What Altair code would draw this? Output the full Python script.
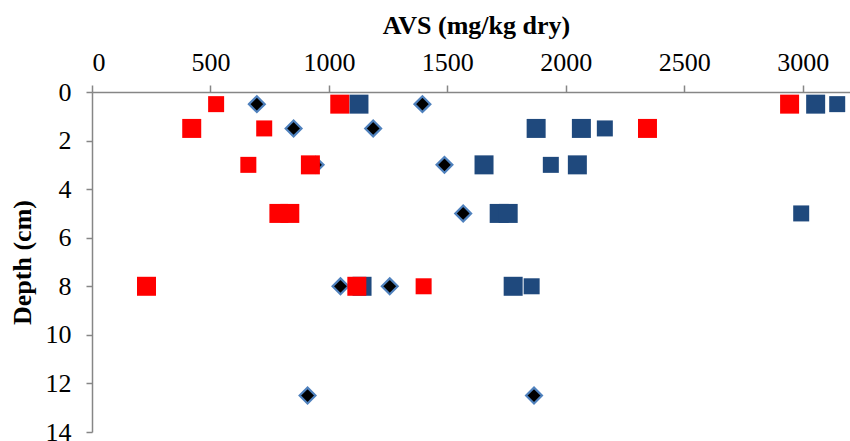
import altair as alt
import pandas as pd

# ---- data ----
red_big_avs = [1046, 2945, 421, 2345, 922, 789, 835, 230, 1118]
red_big_depth = [0.5, 0.5, 1.5, 1.5, 3, 5, 5, 8, 8]

red_small_avs = [524, 727, 660, 1400]
red_small_depth = [0.5, 1.5, 3, 8]

blue_big_avs = [1127, 3055, 1875, 2066, 1655, 2049, 1719, 1757, 1140, 1778]
blue_big_depth = [0.5, 0.5, 1.5, 1.5, 3, 3, 5, 5, 8, 8]

blue_small_avs = [3146, 2165, 1937, 2994, 1856]
blue_small_depth = [0.5, 1.5, 3, 5, 8]

diamond_avs = [696, 1395, 851, 1187, 944, 1488, 1567, 1049, 1257, 910, 1866]
diamond_depth = [0.5, 0.5, 1.5, 1.5, 3, 3, 5, 8, 8, 12.5, 12.5]

x_ticks = [0, 500, 1000, 1500, 2000, 2500, 3000]
y_ticks = [0, 2, 4, 6, 8, 10, 12, 14]

FONT = "Liberation Serif"
AXIS_GREY = "#868686"


def frame(avs, depth):
    return pd.DataFrame({"avs": avs, "depth": depth})


x_enc = alt.X(
    "avs:Q",
    scale=alt.Scale(domain=[0, 3200], nice=False, zero=True),
    axis=alt.Axis(
        orient="top",
        values=x_ticks,
        format="d",
        title="AVS (mg/kg dry)",
        titleBaseline="alphabetic",
        titleY=-59,
        titleX=384,
        tickSize=7,
        labelPadding=10,
    ),
)
y_enc = alt.Y(
    "depth:Q",
    scale=alt.Scale(domain=[0, 14], reverse=True, nice=False),
    axis=alt.Axis(
        values=y_ticks,
        format="d",
        title="Depth (cm)",
        titleBaseline="alphabetic",
        titleAngle=-90,
        titleAlign="center",
        titleX=-62,
        titleY=170,
        tickSize=6,
        labelPadding=15,
    ),
)

diamonds = alt.Chart(frame(diamond_avs, diamond_depth)).mark_point(
    shape="diamond", filled=True, fill="black", stroke="#4F81BD",
    strokeWidth=2.2, size=250, opacity=1
).encode(x=x_enc, y=y_enc)

blue_big = alt.Chart(frame(blue_big_avs, blue_big_depth)).mark_point(
    shape="square", filled=True, color="#1F497D", size=361, opacity=1, strokeWidth=0
).encode(x=x_enc, y=y_enc)

blue_small = alt.Chart(frame(blue_small_avs, blue_small_depth)).mark_point(
    shape="square", filled=True, color="#1F497D", size=256, opacity=1, strokeWidth=0
).encode(x=x_enc, y=y_enc)

red_big = alt.Chart(frame(red_big_avs, red_big_depth)).mark_point(
    shape="square", filled=True, color="#FF0000", size=361, opacity=1, strokeWidth=0
).encode(x=x_enc, y=y_enc)

red_small = alt.Chart(frame(red_small_avs, red_small_depth)).mark_point(
    shape="square", filled=True, color="#FF0000", size=256, opacity=1, strokeWidth=0
).encode(x=x_enc, y=y_enc)

chart = alt.layer(diamonds, blue_big, blue_small, red_big, red_small).properties(
    width=758,
    height=340,
    autosize=alt.AutoSizeParams(type="none"),
    padding={"left": 92, "top": 92, "right": 0, "bottom": 9},
    background="white",
).configure_view(stroke=None).configure_axis(
    grid=False,
    domainColor=AXIS_GREY,
    domainWidth=1.5,
    tickColor=AXIS_GREY,
    tickWidth=1.5,
    labelFont=FONT,
    labelFontSize=26,
    labelColor="black",
    titleFont=FONT,
    titleFontSize=26,
    titleFontWeight="bold",
    titleColor="black",
)

chart.save("out.html", embed_options={"renderer": "svg", "actions": False})
